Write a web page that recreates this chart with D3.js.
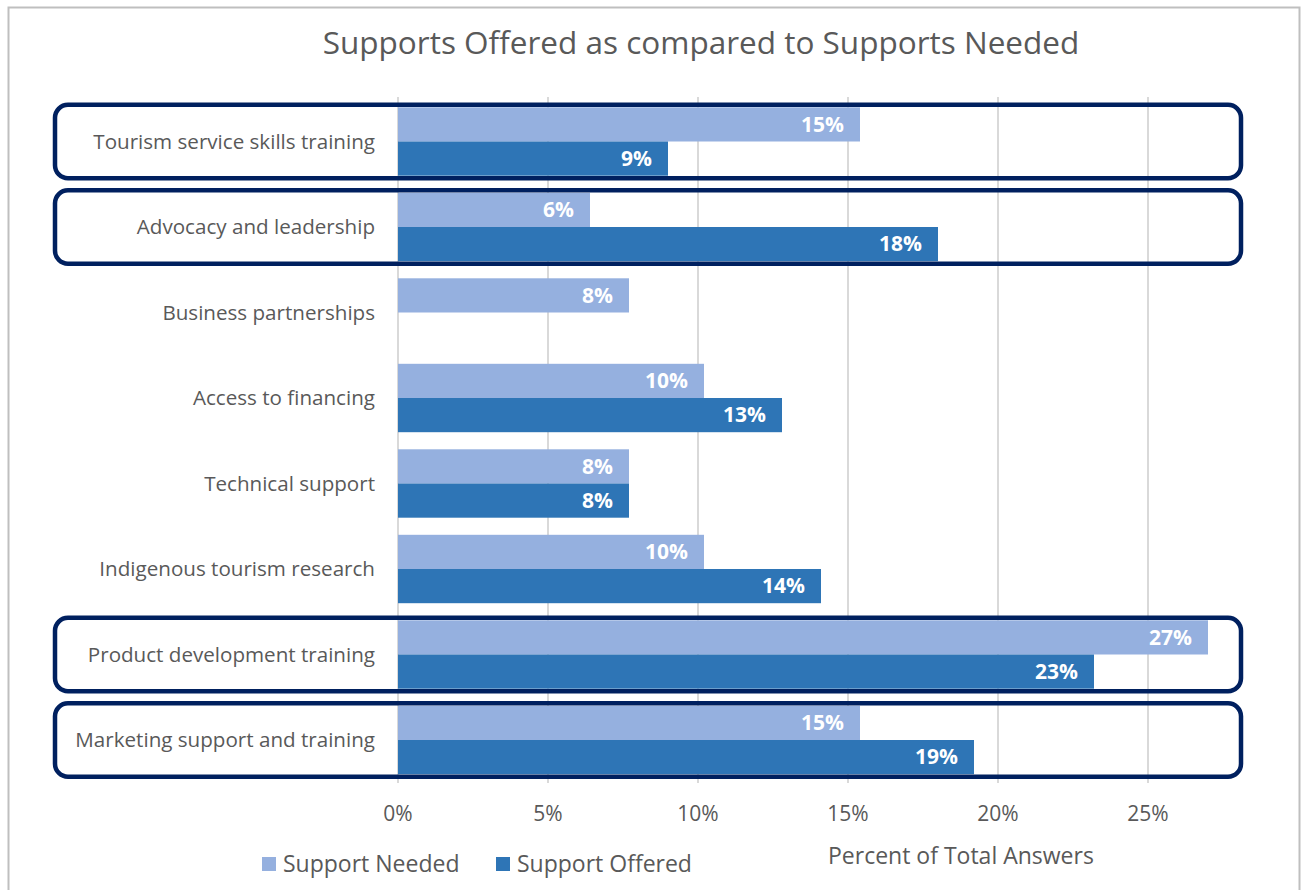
<!DOCTYPE html>
<html><head><meta charset="utf-8">
<script src="https://cdn.jsdelivr.net/npm/d3@7"></script>
<style>body{margin:0;background:#fff} svg{display:block}</style>
</head><body><svg id="c" width="1304" height="890"></svg>
<script>
const categories = [
  "Tourism service skills training",
  "Advocacy and leadership",
  "Business partnerships",
  "Access to financing",
  "Technical support",
  "Indigenous tourism research",
  "Product development training",
  "Marketing support and training"
];
const needed  = [15.4, 6.4, 7.7, 10.2, 7.7, 10.2, 27.0, 15.4];
const offered = [9.0, 18.0, null, 12.8, 7.7, 14.1, 23.2, 19.2];
const xTicks = [0, 5, 10, 15, 20, 25];
const seriesNames = ["Support Needed", "Support Offered"];
const highlighted = [
  "Tourism service skills training",
  "Advocacy and leadership",
  "Product development training",
  "Marketing support and training"
];
const titleText = "Supports Offered as compared to Supports Needed";
const axisTitle = "Percent of Total Answers";

const colors = {needed: "#95B0DF", offered: "#2E75B6", grid: "#D9D9D9", text: "#595959", box: "#00205F", frame: "#BFBFBF"};
const FONT = "'Open Sans', sans-serif";

const svg = d3.select("#c");
svg.append("rect").attr("x", 8.5).attr("y", 7.5).attr("width", 1291).attr("height", 890)
  .attr("fill", "#fff").attr("stroke", colors.frame).attr("stroke-width", 2);

const x = d3.scaleLinear().domain([0, 30]).range([398, 1298]);
const y = d3.scaleBand().domain(categories).range([98.75, 782.75]).paddingInner(0.2).paddingOuter(0.1);
const sub = d3.scaleBand().domain(["needed", "offered"]).range([0, y.bandwidth()]);

// title
svg.append("text").attr("x", 701).attr("y", 54).attr("text-anchor", "middle")
  .attr("font-family", FONT).attr("font-size", 31.5).attr("fill", colors.text).text(titleText);

// gridlines
svg.append("g").selectAll("line").data(xTicks).join("line")
  .attr("x1", d => x(d)).attr("x2", d => x(d)).attr("y1", 97).attr("y2", 783)
  .attr("stroke", colors.grid).attr("stroke-width", 2);

// bars
const rows = categories.map((c, i) => ({c, needed: needed[i], offered: offered[i]}));
const g = svg.append("g").selectAll("g").data(rows).join("g")
  .attr("transform", d => `translate(0,${y(d.c)})`);
["needed", "offered"].forEach(k => {
  const sel = g.filter(d => d[k] != null);
  sel.append("rect").attr("x", x(0)).attr("y", sub(k))
    .attr("width", d => x(d[k]) - x(0)).attr("height", sub.bandwidth())
    .attr("fill", colors[k]);
  sel.append("text").attr("x", d => x(d[k]) - 16).attr("y", sub(k) + sub.bandwidth() / 2)
    .attr("dy", "0.35em").attr("text-anchor", "end")
    .attr("font-family", FONT).attr("font-weight", 700).attr("font-size", 21)
    .attr("fill", "#fff").text(d => Math.round(d[k]) + "%");
});

// category labels
svg.append("g").selectAll("text").data(categories).join("text")
  .attr("x", 375).attr("y", d => y(d) + y.bandwidth() / 2).attr("dy", "0.35em")
  .attr("text-anchor", "end").attr("font-family", FONT).attr("font-size", 20.6)
  .attr("fill", colors.text).text(d => d);

// x axis tick labels
svg.append("g").selectAll("text").data(xTicks).join("text")
  .attr("x", d => x(d)).attr("y", 814).attr("dy", "0.35em").attr("text-anchor", "middle")
  .attr("font-family", FONT).attr("font-size", 21).attr("fill", colors.text)
  .text(d => d + "%");

// axis title
svg.append("text").attr("x", 828).attr("y", 856).attr("dy", "0.35em")
  .attr("font-family", FONT).attr("font-size", 23).attr("fill", colors.text).text(axisTitle);

// legend
const lg = svg.append("g").selectAll("g").data(seriesNames).join("g")
  .attr("transform", (d, i) => `translate(${[262, 496][i]},864)`);
lg.append("rect").attr("x", 0).attr("y", -7).attr("width", 14).attr("height", 14)
  .attr("fill", (d, i) => [colors.needed, colors.offered][i]);
lg.append("text").attr("x", 21).attr("y", 0).attr("dy", "0.35em")
  .attr("font-family", FONT).attr("font-size", 23).attr("fill", colors.text).text(d => d);

// highlight boxes
svg.append("g").selectAll("rect").data(highlighted).join("rect")
  .attr("x", 55).attr("width", 1186)
  .attr("y", d => y(d) - 2.5).attr("height", y.bandwidth() + 5)
  .attr("rx", 13).attr("ry", 13)
  .attr("fill", "none").attr("stroke", colors.box).attr("stroke-width", 4.5);
</script></body></html>
